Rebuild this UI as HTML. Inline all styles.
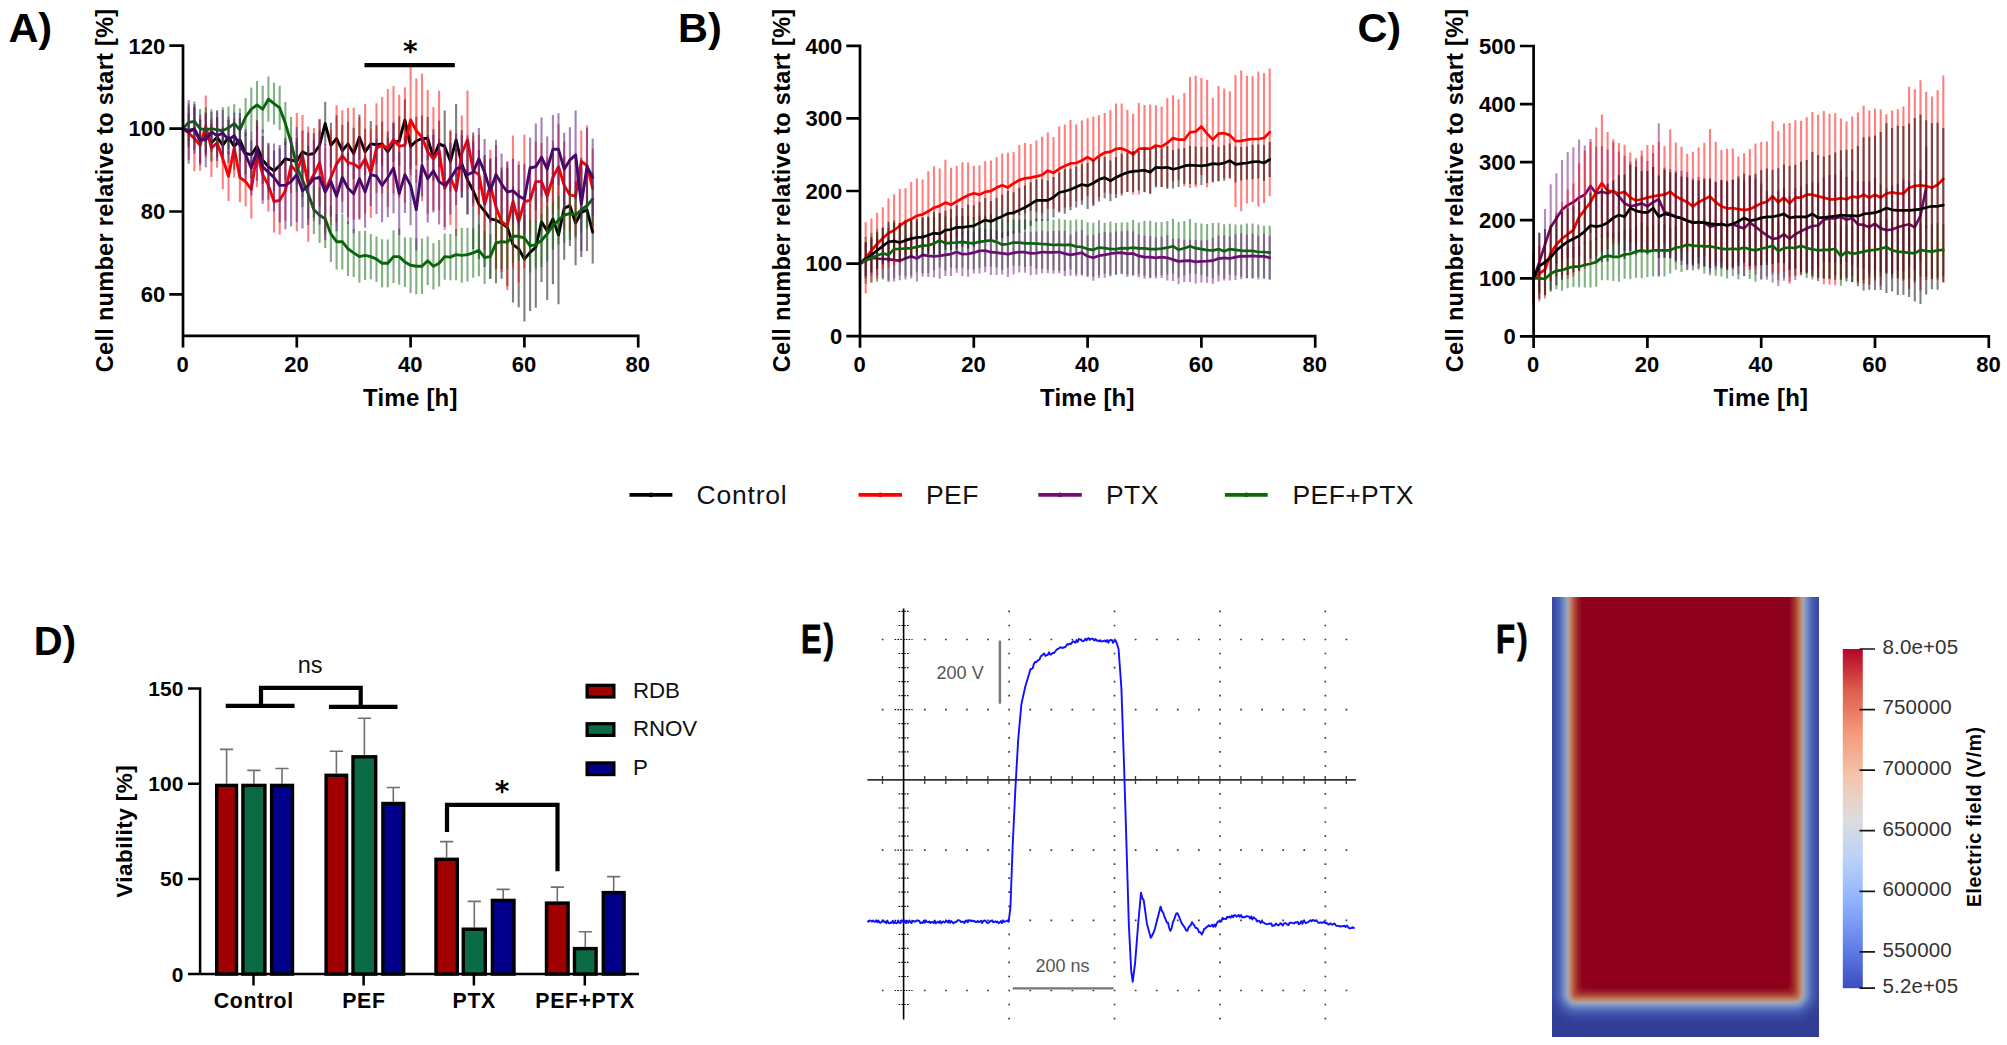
<!DOCTYPE html>
<html lang="en"><head><meta charset="utf-8"><title>Figure</title>
<style>html,body{margin:0;padding:0;background:#fff;}svg{display:block;}</style></head>
<body>
<svg width="2007" height="1045" viewBox="0 0 2007 1045">
<rect width="2007" height="1045" fill="#fff"/>
<path d="M183 108.2V148.9M188.7 113.8V147.5M194.4 108.1V149.9M200.1 119V163.1M205.8 114V154.8M211.4 123.9V161.5M217.1 117.1V157.5M222.8 127.3V163M228.5 119.9V154.6M234.2 123V169.8M239.9 118.1V161.4M245.6 132.4V174.5M251.3 130.8V178.6M257 125.5V167.3M262.7 136.1V184M268.4 142.8V190.6M274 150.8V190.9M279.7 144.9V186M285.4 137.8V179.8M291.1 139.3V180.9M296.8 137.9V184.7M302.5 130.6V172.9M308.2 132.5V176.9M313.9 133.2V173.7M319.6 119.6V170.8M325.2 101.8V145.4M330.9 122.7V167.7M336.6 115.2V161.9M342.3 125V176.1M348 121.7V166.2M353.7 127.8V179.1M359.4 114.5V160.1M365.1 128.8V174.8M370.8 121V166.9M376.5 125.2V164.3M382.1 121.5V166.3M387.8 131.2V172.4M393.5 123.3V162.1M399.2 116.2V165.9M404.9 99.3V140.4M410.6 123.8V169M416.3 116.7V165.4M422 115.4V161.7M427.7 116.9V160.1M433.4 134.7V180.5M439.1 120.7V167.1M444.7 110.4V182.4M450.4 131.2V191.5M456.1 103.9V175.6M461.8 130.3V197.3M467.5 145.2V214.8M473.2 132.5V249M478.9 149.9V259M484.6 155.1V267.1M490.3 159.1V278.8M496 157.1V283.2M501.6 167.4V278.7M507.3 168.1V286.3M513 186.8V302.5M518.7 190.3V307.3M524.4 196.9V321.4M530.1 193.9V311.1M535.8 186.6V307.7M541.5 161.7V281.9M547.2 161.8V300.1M552.9 153.6V284.2M558.5 165.9V304.3M564.2 156.5V259.8M569.9 165.3V246M575.6 180.9V265.3M581.3 167.7V256.9M587 168.7V250.9M592.7 200.8V263.6" stroke="#000000" stroke-opacity="0.5" stroke-width="2.1" fill="none"/>
<polyline points="183,128.6 188.7,130.7 194.4,129 200.1,141 205.8,134.4 211.4,142.7 217.1,137.3 222.8,145.2 228.5,137.3 234.2,146.4 239.9,139.8 245.6,153.5 251.3,154.7 257,146.4 262.7,160.1 268.4,166.7 274,170.9 279.7,165.5 285.4,158.8 291.1,160.1 296.8,161.3 302.5,151.8 308.2,154.7 313.9,153.5 319.6,145.2 325.2,123.6 330.9,145.2 336.6,138.5 342.3,150.6 348,143.9 353.7,153.5 359.4,137.3 365.1,151.8 370.8,143.9 376.5,144.7 382.1,143.9 387.8,151.8 393.5,142.7 399.2,141 404.9,119.9 410.6,146.4 416.3,141 422,138.5 427.7,138.5 433.4,157.6 439.1,143.9 444.7,146.4 450.4,161.3 456.1,139.8 461.8,163.8 467.5,180 473.2,190.8 478.9,204.4 484.6,211.1 490.3,218.9 496,220.2 501.6,223.1 507.3,227.2 513,244.6 518.7,248.8 524.4,259.1 530.1,252.5 535.8,247.1 541.5,221.8 547.2,230.9 552.9,218.9 558.5,235.1 564.2,208.2 569.9,205.7 575.6,223.1 581.3,212.3 587,209.8 592.7,232.2" stroke="#000000" stroke-width="2.9" fill="none" stroke-linejoin="round" stroke-linecap="round"/>
<path d="M183 99.7V157.5M188.7 106.5V159.8M194.4 105.8V171.3M200.1 119.7V170.7M205.8 95.4V157.6M211.4 119.2V177M217.1 117.6V167.7M222.8 128.4V189.2M228.5 151.6V200.9M234.2 118.8V177.4M239.9 152.7V202.3M245.6 156.6V206.6M251.3 160.6V218.4M257 119.9V187M262.7 149.5V199.7M268.4 159.2V211.5M274 170.7V232.4M279.7 165.8V234.7M285.4 160.7V220.8M291.1 137.7V193.3M296.8 112.9V231.3M302.5 115V196.9M308.2 126.5V241.7M313.9 128.1V221M319.6 118.8V206.4M325.2 147.2V234.3M330.9 129.7V225.2M336.6 105.2V222.4M342.3 110.2V201.6M348 108.1V217M353.7 107.8V219.8M359.4 117.3V218.6M365.1 104.1V213.6M370.8 128.8V217.9M376.5 103.3V192.9M382.1 96.9V193.4M387.8 89.1V207.1M393.5 86V193.5M399.2 94.8V198M404.9 87.2V203.1M410.6 64.6V175.2M416.3 78.5V182.8M422 73.5V201M427.7 89.9V213.7M433.4 107.1V210.6M439.1 90.8V210.3M444.7 146.4V230.1M450.4 129.8V225.1M456.1 145.5V236M461.8 115.5V191.4M467.5 90.4V189.2M473.2 135.7V206M478.9 134.5V214.7M484.6 158.7V250.1M490.3 149.7V221M496 145V268.8M501.6 171.8V271.9M507.3 161V290.1M513 135.5V267.5M518.7 161.3V282.4M524.4 134.8V268.3M530.1 165.8V234.8M535.8 141.4V221.8M541.5 142.9V220.3M547.2 157.6V234.6M552.9 140.8V214.1M558.5 124.3V209.1M564.2 141.4V229.3M569.9 158V231.8M575.6 156.4V235.9M581.3 130.6V192.1M587 125.2V205.8M592.7 148.8V227.8" stroke="#ff0000" stroke-opacity="0.5" stroke-width="2.1" fill="none"/>
<polyline points="183,128.6 188.7,133.1 194.4,138.5 200.1,145.2 205.8,126.5 211.4,148.1 217.1,142.7 222.8,158.8 228.5,176.2 234.2,148.1 239.9,177.5 245.6,181.6 251.3,189.5 257,153.5 262.7,174.6 268.4,185.4 274,201.5 279.7,200.3 285.4,190.8 291.1,165.5 296.8,172.1 302.5,155.9 308.2,184.1 313.9,174.6 319.6,162.6 325.2,190.8 330.9,177.5 336.6,163.8 342.3,155.9 348,162.6 353.7,163.8 359.4,168 365.1,158.8 370.8,173.3 376.5,148.1 382.1,145.2 387.8,148.1 393.5,139.8 399.2,146.4 404.9,145.2 410.6,119.9 416.3,130.7 422,137.3 427.7,151.8 433.4,158.8 439.1,150.6 444.7,188.3 450.4,177.5 456.1,190.8 461.8,153.5 467.5,139.8 473.2,170.9 478.9,174.6 484.6,204.4 490.3,185.4 496,206.9 501.6,221.8 507.3,225.6 513,201.5 518.7,221.8 524.4,201.5 530.1,200.3 535.8,181.6 541.5,181.6 547.2,196.1 552.9,177.5 558.5,166.7 564.2,185.4 569.9,194.9 575.6,196.1 581.3,161.3 587,165.5 592.7,188.3" stroke="#ff0000" stroke-width="2.9" fill="none" stroke-linejoin="round" stroke-linecap="round"/>
<path d="M183 109.9V147.2M188.7 103.6V141.2M194.4 101.5V141.6M200.1 108.9V148.3M205.8 107.2V152.4M211.4 109.3V147.9M217.1 111.2V148.5M222.8 107.3V154.1M228.5 106.4V149.1M234.2 104.2V143M239.9 108.3V151.3M245.6 98.1V135.9M251.3 87.6V130.6M257 81.1V128.9M262.7 85.7V132.5M268.4 76.6V121.7M274 82.8V124.6M279.7 85.7V130M285.4 102V145.2M291.1 116.9V168.4M296.8 141.7V191.7M302.5 152.8V207.1M308.2 168.6V218.7M313.9 185.5V234.1M319.6 187.3V243.1M325.2 190V247.9M330.9 205.8V261.9M336.6 214V269.5M342.3 214V269.5M348 221.6V276M353.7 228.9V276.9M359.4 230.9V282.4M365.1 230.7V280.1M370.8 234V279.3M376.5 236.6V281.7M382.1 239.2V287.3M387.8 239.4V287.2M393.5 230.2V283.1M399.2 228.6V284.7M404.9 237.2V286.9M410.6 237.6V293.1M416.3 238.2V294.2M422 238.4V293.9M427.7 236.6V285M433.4 242.9V289.4M439.1 240V286.5M444.7 233.6V279.7M450.4 234V280.2M456.1 229V280.2M461.8 228.1V282.7M467.5 227.7V281.5M473.2 228.2V277.7M478.9 224.6V276.2M484.6 230.8V284.1M490.3 234.3V279M496 217.1V268.8M501.6 214.4V269M507.3 215.6V268.7M513 210V262.7M518.7 211.6V261.1M524.4 215V260.9M530.1 219.3V272.5M535.8 220.8V268.5M541.5 213.8V267.1M547.2 206.2V261.5M552.9 201.3V249.8M558.5 195.9V244.5M564.2 187.7V242.7M569.9 187.3V239.8M575.6 192.3V238.1M581.3 187.2V232.5M587 182.9V228.5M592.7 171.8V226.3" stroke="#0a640a" stroke-opacity="0.5" stroke-width="2.1" fill="none"/>
<polyline points="183,128.6 188.7,122.4 194.4,121.5 200.1,128.6 205.8,129.8 211.4,128.6 217.1,129.8 222.8,130.7 228.5,127.8 234.2,123.6 239.9,129.8 245.6,117 251.3,109.1 257,105 262.7,109.1 268.4,99.2 274,103.7 279.7,107.9 285.4,123.6 291.1,142.7 296.8,166.7 302.5,180 308.2,193.7 313.9,209.8 319.6,215.2 325.2,218.9 330.9,233.9 336.6,241.7 342.3,241.7 348,248.8 353.7,252.9 359.4,256.6 365.1,255.4 370.8,256.6 376.5,259.1 382.1,263.3 387.8,263.3 393.5,256.6 399.2,256.6 404.9,262 410.6,265.3 416.3,266.2 422,266.2 427.7,260.8 433.4,266.2 439.1,263.3 444.7,256.6 450.4,257.1 456.1,254.6 461.8,255.4 467.5,254.6 473.2,252.9 478.9,250.4 484.6,257.5 490.3,256.6 496,243 501.6,241.7 507.3,242.1 513,236.3 518.7,236.3 524.4,238 530.1,245.9 535.8,244.6 541.5,240.5 547.2,233.9 552.9,225.6 558.5,220.2 564.2,215.2 569.9,213.5 575.6,215.2 581.3,209.8 587,205.7 592.7,199" stroke="#0a640a" stroke-width="2.9" fill="none" stroke-linejoin="round" stroke-linecap="round"/>
<path d="M183 93.9V163.3M188.7 100.1V163.7M194.4 104V154M200.1 114.5V165.1M205.8 112.3V167.2M211.4 111.8V152M217.1 110.3V160.9M222.8 110.1V156.1M228.5 116.6V162.9M234.2 112.4V158.8M239.9 113V177.3M245.6 129.3V180.1M251.3 140.4V195.5M257 120.4V180.7M262.7 129.6V203.8M268.4 144.5V199.7M274 143.4V211.6M279.7 148.2V222.6M285.4 141.4V229.3M291.1 136.8V226.5M296.8 127.1V222.1M302.5 153.1V228.4M308.2 145.6V225.1M313.9 140.1V217.4M319.6 130.4V224.5M325.2 143.9V240M330.9 146.8V216.4M336.6 161.1V231.2M342.3 141.7V213.3M348 152.6V224M353.7 154.1V233.2M359.4 137.7V219.8M365.1 156.3V227.7M370.8 143.1V206.1M376.5 138.4V214.1M382.1 148.4V222.3M387.8 137.7V217.3M393.5 122.3V213.6M399.2 152.3V235M404.9 136.1V213.1M410.6 145.4V225.3M416.3 169.2V250.5M422 134.4V196.5M427.7 135.1V222.4M433.4 129.2V212.5M439.1 138.7V224.5M444.7 143.6V227.1M450.4 143V214.4M456.1 133.4V205M461.8 135.3V198.1M467.5 135.3V213.9M473.2 141.3V202.9M478.9 128V189.7M484.6 139.1V205.1M490.3 158.5V223M496 139.7V209.5M501.6 153.5V214.7M507.3 162.2V221.8M513 158.7V222.8M518.7 164.8V227.5M524.4 163.8V234.3M530.1 137.6V198.3M535.8 123.4V210M541.5 117.6V196.7M547.2 136.6V201.8M552.9 114.9V183.7M558.5 113.3V185.3M564.2 132.8V205.6M569.9 127.2V192.9M575.6 110.4V199M581.3 157.7V251.1M587 128V205.4M592.7 138.4V216.6" stroke="#5b1a7d" stroke-opacity="0.55" stroke-width="2.1" fill="none"/>
<polyline points="183,128.6 188.7,131.9 194.4,129 200.1,139.8 205.8,139.8 211.4,131.9 217.1,135.6 222.8,133.1 228.5,139.8 234.2,135.6 239.9,145.2 245.6,154.7 251.3,168 257,150.6 262.7,166.7 268.4,172.1 274,177.5 279.7,185.4 285.4,185.4 291.1,181.6 296.8,174.6 302.5,190.8 308.2,185.4 313.9,178.7 319.6,177.5 325.2,192 330.9,181.6 336.6,196.1 342.3,177.5 348,188.3 353.7,193.7 359.4,178.7 365.1,192 370.8,174.6 376.5,176.2 382.1,185.4 387.8,177.5 393.5,168 399.2,193.7 404.9,174.6 410.6,185.4 416.3,209.8 422,165.5 427.7,178.7 433.4,170.9 439.1,181.6 444.7,185.4 450.4,178.7 456.1,169.2 461.8,166.7 467.5,174.6 473.2,172.1 478.9,158.8 484.6,172.1 490.3,190.8 496,174.6 501.6,184.1 507.3,192 513,190.8 518.7,196.1 524.4,199 530.1,168 535.8,166.7 541.5,157.2 547.2,169.2 552.9,149.3 558.5,149.3 564.2,169.2 569.9,160.1 575.6,154.7 581.3,204.4 587,166.7 592.7,177.5" stroke="#45086b" stroke-width="2.9" fill="none" stroke-linejoin="round" stroke-linecap="round"/>
<path d="M183 44.4V335.8H639.5M183 294.4H169.3M183 211.5H169.3M183 128.6H169.3M183 45.7H169.3M183 335.8V347.4M296.8 335.8V347.4M410.6 335.8V347.4M524.4 335.8V347.4M638.2 335.8V347.4" stroke="#000" stroke-width="2.7" fill="none"/>
<text x="165.2" y="302.2" text-anchor="end" font-family="Liberation Sans, Arial, sans-serif" font-weight="bold" font-size="22">60</text>
<text x="165.2" y="219.3" text-anchor="end" font-family="Liberation Sans, Arial, sans-serif" font-weight="bold" font-size="22">80</text>
<text x="165.2" y="136.4" text-anchor="end" font-family="Liberation Sans, Arial, sans-serif" font-weight="bold" font-size="22">100</text>
<text x="165.2" y="53.5" text-anchor="end" font-family="Liberation Sans, Arial, sans-serif" font-weight="bold" font-size="22">120</text>
<text x="182.6" y="372.3" text-anchor="middle" font-family="Liberation Sans, Arial, sans-serif" font-weight="bold" font-size="22">0</text>
<text x="296.4" y="372.3" text-anchor="middle" font-family="Liberation Sans, Arial, sans-serif" font-weight="bold" font-size="22">20</text>
<text x="410.2" y="372.3" text-anchor="middle" font-family="Liberation Sans, Arial, sans-serif" font-weight="bold" font-size="22">40</text>
<text x="524" y="372.3" text-anchor="middle" font-family="Liberation Sans, Arial, sans-serif" font-weight="bold" font-size="22">60</text>
<text x="637.8" y="372.3" text-anchor="middle" font-family="Liberation Sans, Arial, sans-serif" font-weight="bold" font-size="22">80</text>
<text x="363" y="406.2" font-family="Liberation Sans, Arial, sans-serif" font-weight="bold" font-size="24" textLength="94.5" lengthAdjust="spacing">Time [h]</text>
<text transform="translate(112.7 372.2) rotate(-90)" font-family="Liberation Sans, Arial, sans-serif" font-weight="bold" font-size="23.5" textLength="363.4" lengthAdjust="spacing">Cell number relative to start [%]</text>
<text x="8.4" y="42.2" font-family="Liberation Sans, Arial, sans-serif" font-weight="bold" font-size="41.5">A)</text>
<path d="M364.5 65.1H454.8" stroke="#000" stroke-width="4.2" fill="none"/>
<text x="410.4" y="60.6" text-anchor="middle" font-family="DejaVu Sans, sans-serif" font-weight="bold" font-size="28">*</text>
<path d="M860 241.2V286M865.7 237V283.7M871.4 233.1V282.5M877.1 229V281.8M882.8 227.4V279.5M888.5 227.9V281.9M894.1 220V278.1M899.8 222.9V275.2M905.5 220.5V276.2M911.2 220.8V275.8M916.9 221.5V272.3M922.6 217.8V273.3M928.3 217.6V273.3M934 216.6V270.3M939.7 213.3V267.4M945.4 216.2V270.4M951 218V267.7M956.7 216.6V268.5M962.4 216.1V267.5M968.1 216.3V269.4M973.8 216.9V269.6M979.5 215.6V268.1M985.2 215.7V266.5M990.9 214.2V266.5M996.6 216.5V267.2M1002.2 219.5V270M1007.9 220.2V267.7M1013.6 219.5V265.6M1019.3 219.4V265.7M1025 219.6V267M1030.7 220.4V266.1M1036.4 218.3V268.8M1042.1 219.3V268.7M1047.8 219.2V269.6M1053.5 219.5V270.5M1059.2 218.8V270.7M1064.8 219.5V270.9M1070.5 220.3V269.2M1076.2 219.4V273.8M1081.9 219.7V274.4M1087.6 222.2V276M1093.3 222.8V276.8M1099 220.3V275M1104.7 222.7V273.6M1110.4 221.4V276.6M1116 223V275.1M1121.7 222.6V273.6M1127.4 222.2V274.5M1133.1 220V275.2M1138.8 222.5V274.3M1144.5 220.7V276M1150.2 220.8V277.6M1155.9 222.2V275.9M1161.6 222.1V275M1167.3 220.9V274.5M1173 218.7V273.6M1178.6 222.1V277.5M1184.3 221V275.5M1190 218.9V273.5M1195.7 222.7V273.7M1201.4 223.4V274.8M1207.1 224.1V276.3M1212.8 222.9V278.2M1218.5 222.8V275.3M1224.2 224.2V278.3M1229.8 223.8V274.4M1235.5 224.4V275.3M1241.2 224.6V276.8M1246.9 223.4V278.2M1252.6 223.4V278.4M1258.3 224.6V279.4M1264 225.8V278.2M1269.7 225.8V279.6" stroke="#0a640a" stroke-opacity="0.5" stroke-width="2.1" fill="none"/>
<path d="M860 245.5V281.7M865.7 242.3V279.1M871.4 239.8V275.8M877.1 238.4V278.7M882.8 240.1V277.9M888.5 238.1V280.4M894.1 238.7V281.5M899.8 241.2V280.2M905.5 237.5V279.4M911.2 234.1V278.6M916.9 235.5V281.5M922.6 233.2V276.5M928.3 234.6V277M934 235.3V277.4M939.7 232.9V278.8M945.4 233.9V275.9M951 232.1V276.1M956.7 231.1V272.8M962.4 232.3V276M968.1 230.8V276.7M973.8 231.9V273.5M979.5 228.3V273.6M985.2 228.7V272.3M990.9 229.4V275M996.6 230.4V275M1002.2 232.4V274.5M1007.9 231.3V277M1013.6 231.1V274.6M1019.3 231.4V272.5M1025 231.7V272.7M1030.7 231.7V275.2M1036.4 231.5V274.8M1042.1 230.7V273.2M1047.8 231.5V273.2M1053.5 231V273.7M1059.2 230.7V273.3M1064.8 230.9V276.3M1070.5 234.4V275.4M1076.2 231.4V276.3M1081.9 230V275.4M1087.6 235.6V277.1M1093.3 234.9V280.7M1099 233.3V278M1104.7 232.1V277.7M1110.4 232.4V274.9M1116 231.4V274.3M1121.7 231.2V274.2M1127.4 230.7V276.9M1133.1 231.4V275.4M1138.8 234.5V277.3M1144.5 235.5V278.7M1150.2 235.9V278.3M1155.9 237.2V278.4M1161.6 236.5V278M1167.3 235.1V280.4M1173 238.4V280.9M1178.6 238.5V284.3M1184.3 239.8V282.1M1190 239.5V281.9M1195.7 240V283.6M1201.4 240.5V282.4M1207.1 239.8V282.7M1212.8 237.7V283.7M1218.5 235.8V281.4M1224.2 235.2V280.4M1229.8 236.4V280.6M1235.5 234.2V279.9M1241.2 233.3V279.2M1246.9 234.4V278.2M1252.6 233.5V278.2M1258.3 235.7V276.9M1264 234V278.8M1269.7 236.1V279.4" stroke="#7a2a86" stroke-opacity="0.55" stroke-width="2.1" fill="none"/>
<polyline points="860,263.6 865.7,260.7 871.4,257.8 877.1,258.5 882.8,259 888.5,259.2 894.1,260.1 899.8,260.7 905.5,258.5 911.2,256.3 916.9,258.5 922.6,254.9 928.3,255.8 934,256.3 939.7,255.8 945.4,254.9 951,254.1 956.7,252 962.4,254.2 968.1,253.8 973.8,252.7 979.5,250.9 985.2,250.5 990.9,252.2 996.6,252.7 1002.2,253.4 1007.9,254.2 1013.6,252.9 1019.3,252 1025,252.2 1030.7,253.4 1036.4,253.1 1042.1,252 1047.8,252.3 1053.5,252.3 1059.2,252 1064.8,253.6 1070.5,254.9 1076.2,253.9 1081.9,252.7 1087.6,256.3 1093.3,257.8 1099,255.7 1104.7,254.9 1110.4,253.7 1116,252.9 1121.7,252.7 1127.4,253.8 1133.1,253.4 1138.8,255.9 1144.5,257.1 1150.2,257.1 1155.9,257.8 1161.6,257.2 1167.3,257.8 1173,259.6 1178.6,261.4 1184.3,260.9 1190,260.7 1195.7,261.8 1201.4,261.4 1207.1,261.2 1212.8,260.7 1218.5,258.6 1224.2,257.8 1229.8,258.5 1235.5,257.1 1241.2,256.2 1246.9,256.3 1252.6,255.8 1258.3,256.3 1264,256.4 1269.7,257.8" stroke="#6a0e72" stroke-width="2.7" fill="none" stroke-linejoin="round" stroke-linecap="round"/>
<path d="M860 228.1V299.1M865.7 222.1V293.5M871.4 218.5V282.5M877.1 212.7V275.3M882.8 207.3V269.1M888.5 198.5V267.7M894.1 194.4V266M899.8 188.9V262.8M905.5 188.2V254.8M911.2 182.1V256.2M916.9 178.5V252.9M922.6 179.4V249.3M928.3 171.3V251.4M934 166.3V249.1M939.7 168.5V243.4M945.4 159.8V245.4M951 167.7V241.9M956.7 166V237M962.4 162.2V234.3M968.1 162.4V228.2M973.8 165.7V220.6M979.5 165.2V224.1M985.2 161.3V222.4M990.9 160.6V221.4M996.6 157.2V218M1002.2 153.5V216.9M1007.9 152.8V222M1013.6 151.9V214.9M1019.3 145V215.3M1025 143V213.5M1030.7 144.1V211.1M1036.4 140.5V212.3M1042.1 136.8V213.2M1047.8 132.6V208.8M1053.5 136.9V208.8M1059.2 126.5V211M1064.8 124.4V207.6M1070.5 120V206.8M1076.2 124.6V201.3M1081.9 120.5V200.5M1087.6 118.2V196.2M1093.3 116.4V204.6M1099 115.3V196.7M1104.7 112.9V192.6M1110.4 109.9V193.8M1116 103.6V194.3M1121.7 103.6V193.2M1127.4 109.9V192M1133.1 113.8V194.6M1138.8 103.1V194.6M1144.5 104.9V191.8M1150.2 104.5V193.3M1155.9 105.2V185.8M1161.6 106.6V186.9M1167.3 98.3V187.5M1173 95.3V181M1178.6 99.2V180.2M1184.3 93.1V186.3M1190 76.7V188M1195.7 75.7V187.3M1201.4 78V175.1M1207.1 79.9V187.4M1212.8 97.8V181.6M1218.5 86V181.3M1224.2 88.5V177.9M1229.8 91.2V179M1235.5 75.2V207M1241.2 70.6V211.3M1246.9 75.8V203.5M1252.6 76.2V201.9M1258.3 71.5V206.6M1264 73.1V202.9M1269.7 68.4V196.3" stroke="#ff0000" stroke-opacity="0.5" stroke-width="2.1" fill="none"/>
<polyline points="860,263.6 865.7,257.8 871.4,250.5 877.1,244 882.8,238.2 888.5,233.1 894.1,230.2 899.8,225.8 905.5,221.5 911.2,219.1 916.9,215.7 922.6,214.4 928.3,211.3 934,207.7 939.7,205.9 945.4,202.6 951,204.8 956.7,201.5 962.4,198.3 968.1,195.3 973.8,193.2 979.5,194.6 985.2,191.9 990.9,191 996.6,187.6 1002.2,185.2 1007.9,187.4 1013.6,183.4 1019.3,180.1 1025,178.3 1030.7,177.6 1036.4,176.4 1042.1,175 1047.8,170.7 1053.5,172.8 1059.2,168.8 1064.8,166 1070.5,163.4 1076.2,163 1081.9,160.5 1087.6,157.2 1093.3,160.5 1099,156 1104.7,152.7 1110.4,151.9 1116,148.9 1121.7,148.4 1127.4,151 1133.1,154.2 1138.8,148.9 1144.5,148.4 1150.2,148.9 1155.9,145.5 1161.6,146.7 1167.3,142.9 1173,138.1 1178.6,139.7 1184.3,139.7 1190,132.3 1195.7,131.5 1201.4,126.5 1207.1,133.6 1212.8,139.7 1218.5,133.6 1224.2,133.2 1229.8,135.1 1235.5,141.1 1241.2,140.9 1246.9,139.7 1252.6,139 1258.3,139 1264,138 1269.7,132.3" stroke="#ff0000" stroke-width="2.7" fill="none" stroke-linejoin="round" stroke-linecap="round"/>
<path d="M860 246.4V280.8M865.7 242.2V276.3M871.4 237.2V272.6M877.1 232.3V268.8M882.8 227.7V264.6M888.5 221.8V261.9M894.1 222.3V259.9M899.8 222.9V262.2M905.5 221.5V259.2M911.2 219V258.2M916.9 218.7V256.2M922.6 217.5V256.6M928.3 216.4V254.1M934 211.9V254.3M939.7 213.1V254.5M945.4 210.7V249.8M951 209V250M956.7 205.2V249.4M962.4 207.9V246.7M968.1 204.7V248.4M973.8 205.3V246.4M979.5 202.1V243.8M985.2 198V242.1M990.9 200.9V242.1M996.6 197.8V239.8M1002.2 194.7V238.1M1007.9 190.8V236.2M1013.6 192.2V233.4M1019.3 187.7V232.4M1025 185.5V229.4M1030.7 182.3V225.8M1036.4 179.4V221.5M1042.1 179.4V221.1M1047.8 180.5V220.4M1053.5 177.1V217.5M1059.2 172.4V212.5M1064.8 168.9V213.8M1070.5 168.8V210.3M1076.2 166.6V207.6M1081.9 164.2V204.8M1087.6 162.9V208.9M1093.3 160.1V205.9M1099 157.4V201.6M1104.7 156.9V198.2M1110.4 160.5V201.2M1116 157.1V197.9M1121.7 153.8V195.5M1127.4 152.7V192M1133.1 150.9V191.9M1138.8 151.1V190.6M1144.5 148.3V192.2M1150.2 150.3V193.9M1155.9 147V187.6M1161.6 148.6V187M1167.3 146V188.7M1173 150.1V188.4M1178.6 148.8V187.1M1184.3 148V183.8M1190 146.1V184M1195.7 146.4V184.6M1201.4 146.8V184.9M1207.1 147V183.1M1212.8 144.8V182.4M1218.5 146.9V181.3M1224.2 145.2V180.8M1229.8 143.5V177.8M1235.5 146.5V182.4M1241.2 146.9V180.5M1246.9 146.4V179.6M1252.6 144.7V179.2M1258.3 144.6V178.5M1264 145.2V180.8M1269.7 142V177" stroke="#000000" stroke-opacity="0.5" stroke-width="2.1" fill="none"/>
<polyline points="860,263.6 865.7,259.2 871.4,254.9 877.1,250.5 882.8,246.2 888.5,241.8 894.1,241.1 899.8,242.5 905.5,240.4 911.2,238.6 916.9,237.5 922.6,237.1 928.3,235.3 934,233.1 939.7,233.8 945.4,230.2 951,229.5 956.7,227.3 962.4,227.3 968.1,226.5 973.8,225.8 979.5,222.9 985.2,220 990.9,221.5 996.6,218.8 1002.2,216.4 1007.9,213.5 1013.6,212.8 1019.3,210.1 1025,207.5 1030.7,204.1 1036.4,200.4 1042.1,200.3 1047.8,200.4 1053.5,197.3 1059.2,192.5 1064.8,191.3 1070.5,189.5 1076.2,187.1 1081.9,184.5 1087.6,185.9 1093.3,183 1099,179.5 1104.7,177.6 1110.4,180.8 1116,177.5 1121.7,174.7 1127.4,172.4 1133.1,171.4 1138.8,170.9 1144.5,170.2 1150.2,172.1 1155.9,167.3 1161.6,167.8 1167.3,167.3 1173,169.2 1178.6,168 1184.3,165.9 1190,165.1 1195.7,165.5 1201.4,165.9 1207.1,165.1 1212.8,163.6 1218.5,164.1 1224.2,163 1229.8,160.7 1235.5,164.4 1241.2,163.7 1246.9,163 1252.6,161.9 1258.3,161.5 1264,163 1269.7,159.5" stroke="#000000" stroke-width="2.7" fill="none" stroke-linejoin="round" stroke-linecap="round"/>
<polyline points="860,263.6 865.7,260.3 871.4,257.8 877.1,255.4 882.8,253.4 888.5,254.9 894.1,249.1 899.8,249 905.5,248.4 911.2,248.3 916.9,246.9 922.6,245.6 928.3,245.4 934,243.5 939.7,240.4 945.4,243.3 951,242.8 956.7,242.5 962.4,241.8 968.1,242.8 973.8,243.3 979.5,241.8 985.2,241.1 990.9,240.4 996.6,241.9 1002.2,244.7 1007.9,244 1013.6,242.5 1019.3,242.6 1025,243.3 1030.7,243.3 1036.4,243.6 1042.1,244 1047.8,244.4 1053.5,245 1059.2,244.7 1064.8,245.2 1070.5,244.7 1076.2,246.6 1081.9,247 1087.6,249.1 1093.3,249.8 1099,247.6 1104.7,248.1 1110.4,249 1116,249.1 1121.7,248.1 1127.4,248.4 1133.1,247.6 1138.8,248.4 1144.5,248.4 1150.2,249.2 1155.9,249.1 1161.6,248.6 1167.3,247.7 1173,246.2 1178.6,249.8 1184.3,248.2 1190,246.2 1195.7,248.2 1201.4,249.1 1207.1,250.2 1212.8,250.5 1218.5,249.1 1224.2,251.3 1229.8,249.1 1235.5,249.8 1241.2,250.7 1246.9,250.8 1252.6,250.9 1258.3,252 1264,252 1269.7,252.7" stroke="#0a640a" stroke-width="2.7" fill="none" stroke-linejoin="round" stroke-linecap="round"/>
<path d="M860 44.5V336.2H1316.5M860 336.2H846.3M860 263.6H846.3M860 191H846.3M860 118.4H846.3M860 45.8H846.3M860 336.2V347.8M973.8 336.2V347.8M1087.6 336.2V347.8M1201.4 336.2V347.8M1315.2 336.2V347.8" stroke="#000" stroke-width="2.7" fill="none"/>
<text x="842.2" y="344" text-anchor="end" font-family="Liberation Sans, Arial, sans-serif" font-weight="bold" font-size="22">0</text>
<text x="842.2" y="271.4" text-anchor="end" font-family="Liberation Sans, Arial, sans-serif" font-weight="bold" font-size="22">100</text>
<text x="842.2" y="198.8" text-anchor="end" font-family="Liberation Sans, Arial, sans-serif" font-weight="bold" font-size="22">200</text>
<text x="842.2" y="126.2" text-anchor="end" font-family="Liberation Sans, Arial, sans-serif" font-weight="bold" font-size="22">300</text>
<text x="842.2" y="53.6" text-anchor="end" font-family="Liberation Sans, Arial, sans-serif" font-weight="bold" font-size="22">400</text>
<text x="859.6" y="372.3" text-anchor="middle" font-family="Liberation Sans, Arial, sans-serif" font-weight="bold" font-size="22">0</text>
<text x="973.4" y="372.3" text-anchor="middle" font-family="Liberation Sans, Arial, sans-serif" font-weight="bold" font-size="22">20</text>
<text x="1087.2" y="372.3" text-anchor="middle" font-family="Liberation Sans, Arial, sans-serif" font-weight="bold" font-size="22">40</text>
<text x="1201" y="372.3" text-anchor="middle" font-family="Liberation Sans, Arial, sans-serif" font-weight="bold" font-size="22">60</text>
<text x="1314.8" y="372.3" text-anchor="middle" font-family="Liberation Sans, Arial, sans-serif" font-weight="bold" font-size="22">80</text>
<text x="1040" y="406.2" font-family="Liberation Sans, Arial, sans-serif" font-weight="bold" font-size="24" textLength="94.5" lengthAdjust="spacing">Time [h]</text>
<text transform="translate(789.7 372.2) rotate(-90)" font-family="Liberation Sans, Arial, sans-serif" font-weight="bold" font-size="23.5" textLength="363.4" lengthAdjust="spacing">Cell number relative to start [%]</text>
<text x="678" y="42.2" font-family="Liberation Sans, Arial, sans-serif" font-weight="bold" font-size="41.5">B)</text>
<path d="M1533.6 264.7V292M1539.3 262V294.6M1545 262.4V295.4M1550.7 255.3V292M1556.4 252.3V289.3M1562 249.5V290.8M1567.7 247.5V288.2M1573.4 246.4V287M1579.1 246.1V287.3M1584.8 242.3V287.6M1590.5 240.2V287.4M1596.2 237.3V286.8M1601.9 234.7V280.2M1607.6 231V280.3M1613.3 232.6V281.1M1618.9 231.8V281.8M1624.6 230.3V278.8M1630.3 228.9V278.9M1636 225.5V277.7M1641.7 222.7V278.2M1647.4 226.1V277.1M1653.1 224.5V276.4M1658.8 224.2V276.7M1664.5 224.4V276.4M1670.2 227.4V273.5M1675.8 225.3V269.7M1681.5 221.9V272M1687.2 218.9V270.3M1692.9 221V270.6M1698.6 221.8V269.8M1704.3 219.1V273.6M1710 220.3V272.5M1715.7 219.2V275.8M1721.4 220.8V276.6M1727.1 220.1V278.4M1732.8 221.3V276.1M1738.4 219.2V279.4M1744.1 218.9V276.2M1749.8 219.4V279.1M1755.5 219.1V281.8M1761.2 217.6V279.8M1766.9 218.8V276.2M1772.6 217.1V274.5M1778.3 221.8V280.3M1784 218.6V277.7M1789.6 218.6V276.5M1795.3 220.2V276M1801 217.6V274M1806.7 218.3V277.9M1812.4 219V279.5M1818.1 223.3V277.6M1823.8 221V278.7M1829.5 220.5V279.3M1835.2 221.9V275.5M1840.9 226.8V285.7M1846.5 224.7V278.5M1852.2 225.5V282.3M1857.9 224.7V280.9M1863.6 223.4V279.8M1869.3 223.4V277.5M1875 222.6V277.2M1880.7 221V276.4M1886.4 219.9V274M1892.1 222.7V278.2M1897.8 224.7V278.5M1903.4 225.4V279M1909.1 227.4V278.1M1914.8 226.2V280.5M1920.5 223.3V276.4M1926.2 225.4V276.7M1931.9 224.4V278.8M1937.6 223.3V277.6M1943.3 223.9V275.9" stroke="#0a640a" stroke-opacity="0.5" stroke-width="2.1" fill="none"/>
<path d="M1533.6 252.4V304.2M1539.3 232.5V291.7M1545 209.1V280.2M1550.7 184.3V270.1M1556.4 173.2V263.8M1562 159.9V259.7M1567.7 152V258.3M1573.4 147.2V257.3M1579.1 139.4V255.8M1584.8 145.4V243.9M1590.5 139.1V232.9M1596.2 146.8V240.2M1601.9 146.2V237.3M1607.6 149.5V237.5M1613.3 142.3V238.9M1618.9 151.6V241.2M1624.6 155.7V251.1M1630.3 161.7V250.9M1636 160.5V249.7M1641.7 155.7V251.1M1647.4 161.1V251.5M1653.1 153.3V251.2M1658.8 123.3V275.4M1664.5 167.4V256.8M1670.2 169V258.7M1675.8 170.9V262.6M1681.5 170.7V265.1M1687.2 172.1V269.5M1692.9 178.4V266.8M1698.6 177.1V268.1M1704.3 178.1V267M1710 178V275.2M1715.7 181.5V269.4M1721.4 180.3V267.1M1727.1 182.1V268.8M1732.8 179.2V269.5M1738.4 178.8V274.5M1744.1 180.7V276.1M1749.8 175.7V269.4M1755.5 178.4V274.8M1761.2 183.5V279.1M1766.9 190.9V279.8M1772.6 195.2V282.4M1778.3 190.6V285.9M1784 187.7V280.7M1789.6 196.2V281.4M1795.3 188.2V280.1M1801 186.9V275.6M1806.7 184.1V272.6M1812.4 182.1V270M1818.1 182.4V268.5M1823.8 177.6V261.8M1829.5 175V262M1835.2 174.6V262.4M1840.9 169.7V263.8M1846.5 177.1V262.2M1852.2 170.9V264.9M1857.9 181.4V267.2M1863.6 181.3V268.5M1869.3 181.2V273.2M1875 177.8V269.7M1880.7 184.5V272.2M1886.4 188.4V271.9M1892.1 185.6V273.5M1897.8 183.9V270.6M1903.4 179.3V271.6M1909.1 182V266.6M1914.8 184.1V270.3M1920.5 169.7V261.5M1926.2 146.4V229" stroke="#7a2a86" stroke-opacity="0.55" stroke-width="2.1" fill="none"/>
<polyline points="1533.6,278.3 1539.3,262.1 1545,244.6 1550.7,227.2 1556.4,218.5 1562,209.8 1567.7,205.1 1573.4,202.2 1579.1,197.6 1584.8,194.7 1590.5,186 1596.2,193.5 1601.9,191.8 1607.6,193.5 1613.3,190.6 1618.9,196.4 1624.6,203.4 1630.3,206.3 1636,205.1 1641.7,203.4 1647.4,206.3 1653.1,202.2 1658.8,199.3 1664.5,212.1 1670.2,213.9 1675.8,216.8 1681.5,217.9 1687.2,220.8 1692.9,222.6 1698.6,222.6 1704.3,222.6 1710,226.6 1715.7,225.5 1721.4,223.7 1727.1,225.5 1732.8,224.3 1738.4,226.6 1744.1,228.4 1749.8,222.6 1755.5,226.6 1761.2,231.3 1766.9,235.3 1772.6,238.8 1778.3,238.2 1784,234.2 1789.6,238.8 1795.3,234.2 1801,231.3 1806.7,228.4 1812.4,226 1818.1,225.5 1823.8,219.7 1829.5,218.5 1835.2,218.5 1840.9,216.8 1846.5,219.7 1852.2,217.9 1857.9,224.3 1863.6,224.9 1869.3,227.2 1875,223.7 1880.7,228.4 1886.4,230.1 1892.1,229.5 1897.8,227.2 1903.4,225.5 1909.1,224.3 1914.8,227.2 1920.5,215.6 1926.2,187.7" stroke="#6a0e72" stroke-width="2.7" fill="none" stroke-linejoin="round" stroke-linecap="round"/>
<path d="M1533.6 252.4V304.2M1539.3 245.7V301.6M1545 240.8V298.4M1550.7 225.6V281.1M1556.4 212.5V276.8M1562 202.2V275.5M1567.7 189.4V279M1573.4 183.6V276.6M1579.1 163.2V270.3M1584.8 150.8V268.8M1590.5 142V262.4M1596.2 127.6V255.9M1601.9 114.4V251.7M1607.6 131.9V249.4M1613.3 139.3V244.2M1618.9 143.1V244M1624.6 144.8V238.7M1630.3 152.4V242.8M1636 158V243M1641.7 150.5V248.2M1647.4 145V250.2M1653.1 145V247.8M1658.8 142.1V248.4M1664.5 146V243.4M1670.2 129.6V254M1675.8 142.5V250.3M1681.5 146.8V251.9M1687.2 153.7V250.8M1692.9 151.8V260.9M1698.6 147.6V256.9M1704.3 142.8V255.9M1710 129.1V263.8M1715.7 141.7V262.8M1721.4 150.1V262.5M1727.1 148.8V268.5M1732.8 148.6V267.5M1738.4 156.4V262M1744.1 153.2V267M1749.8 148.9V269.5M1755.5 143.5V269.1M1761.2 142.1V264.7M1766.9 141.5V261.8M1772.6 121.2V271.7M1778.3 131V273.4M1784 123.5V271.7M1789.6 123V283.8M1795.3 120.3V274.9M1801 120.8V274.4M1806.7 117.3V272.1M1812.4 112.1V277.2M1818.1 114.8V278M1823.8 110.9V284.3M1829.5 113.8V284.8M1835.2 113.3V285.3M1840.9 118.4V277.9M1846.5 121.4V277.3M1852.2 116.5V276.3M1857.9 112.4V282.8M1863.6 105.7V283.6M1869.3 110.4V284.8M1875 108.7V280.6M1880.7 109.5V285.7M1886.4 114.2V272.9M1892.1 110.6V274.1M1897.8 109.2V277.8M1903.4 106.4V280.7M1909.1 86.8V288.7M1914.8 89.3V282.6M1920.5 80.3V290.5M1926.2 91.8V280.1M1931.9 96.5V278.9M1937.6 90.2V279.4M1943.3 75.5V282.5" stroke="#ff0000" stroke-opacity="0.5" stroke-width="2.1" fill="none"/>
<polyline points="1533.6,278.3 1539.3,273.7 1545,269.6 1550.7,253.3 1556.4,244.6 1562,238.8 1567.7,234.2 1573.4,230.1 1579.1,216.8 1584.8,209.8 1590.5,202.2 1596.2,191.8 1601.9,183.1 1607.6,190.6 1613.3,191.8 1618.9,193.5 1624.6,191.8 1630.3,197.6 1636,200.5 1641.7,199.3 1647.4,197.6 1653.1,196.4 1658.8,195.3 1664.5,194.7 1670.2,191.8 1675.8,196.4 1681.5,199.3 1687.2,202.2 1692.9,206.3 1698.6,202.2 1704.3,199.3 1710,196.4 1715.7,202.2 1721.4,206.3 1727.1,208.6 1732.8,208 1738.4,209.2 1744.1,210.1 1749.8,209.2 1755.5,206.3 1761.2,203.4 1766.9,201.7 1772.6,196.4 1778.3,202.2 1784,197.6 1789.6,203.4 1795.3,197.6 1801,197.6 1806.7,194.7 1812.4,194.7 1818.1,196.4 1823.8,197.6 1829.5,199.3 1835.2,199.3 1840.9,198.2 1846.5,199.3 1852.2,196.4 1857.9,197.6 1863.6,194.7 1869.3,197.6 1875,194.7 1880.7,197.6 1886.4,193.5 1892.1,192.4 1897.8,193.5 1903.4,193.5 1909.1,187.7 1914.8,186 1920.5,185.4 1926.2,186 1931.9,187.7 1937.6,184.8 1943.3,179" stroke="#ff0000" stroke-width="2.7" fill="none" stroke-linejoin="round" stroke-linecap="round"/>
<path d="M1533.6 250V306.7M1539.3 233.1V299.1M1545 229.1V295.1M1550.7 224.7V290.2M1556.4 215.7V285.2M1562 211.9V279.7M1567.7 208.5V274.9M1573.4 205.4V272.2M1579.1 200.9V270.9M1584.8 197.6V265M1590.5 192.5V258.4M1596.2 190.8V262.4M1601.9 188.8V262.1M1607.6 183.7V261.5M1613.3 180.5V255.4M1618.9 175.2V254.8M1624.6 174.6V259M1630.3 164.5V251.6M1636 167.1V254.8M1641.7 171.3V252.9M1647.4 171V254.4M1653.1 166.9V249.2M1658.8 175.4V258.1M1664.5 169.8V257.9M1670.2 172.3V257.7M1675.8 172.9V260.6M1681.5 176.5V260.5M1687.2 177.2V264.5M1692.9 180.3V264.8M1698.6 180.4V263.6M1704.3 179.2V265.9M1710 179.3V268.1M1715.7 182.3V266.3M1721.4 180.1V268.5M1727.1 180.7V270.2M1732.8 179.9V267.5M1738.4 176.6V266.2M1744.1 173.4V262.4M1749.8 175.6V266M1755.5 173.8V265.5M1761.2 170.3V265.5M1766.9 168.5V265.1M1772.6 169.7V263.8M1778.3 168.3V262.8M1784 164.4V263.3M1789.6 166.1V269.8M1795.3 164.7V268.8M1801 161.8V271.7M1806.7 160.1V273.5M1812.4 152V275.7M1818.1 154.9V280.9M1823.8 156.4V278.3M1829.5 155.1V278.4M1835.2 152.6V279.8M1840.9 150.2V279.9M1846.5 149.8V281.4M1852.2 149.3V281.9M1857.9 146.1V286.3M1863.6 137.2V290.5M1869.3 136.7V289.8M1875 135.4V290M1880.7 131.9V290M1886.4 123.2V292.9M1892.1 128V291.6M1897.8 125.7V295M1903.4 126V294.8M1909.1 123.6V297.1M1914.8 117.9V301.6M1920.5 114.4V304M1926.2 120.3V294.6M1931.9 123.3V289.3M1937.6 122.8V289.8M1943.3 128V282.3" stroke="#000000" stroke-opacity="0.5" stroke-width="2.1" fill="none"/>
<polyline points="1533.6,278.3 1539.3,266.1 1545,262.1 1550.7,257.4 1556.4,250.4 1562,245.8 1567.7,241.7 1573.4,238.8 1579.1,235.9 1584.8,231.3 1590.5,225.5 1596.2,226.6 1601.9,225.5 1607.6,222.6 1613.3,217.9 1618.9,215 1624.6,216.8 1630.3,208 1636,210.9 1641.7,212.1 1647.4,212.7 1653.1,208 1658.8,216.8 1664.5,213.9 1670.2,215 1675.8,216.8 1681.5,218.5 1687.2,220.8 1692.9,222.6 1698.6,222 1704.3,222.6 1710,223.7 1715.7,224.3 1721.4,224.3 1727.1,225.5 1732.8,223.7 1738.4,221.4 1744.1,217.9 1749.8,220.8 1755.5,219.7 1761.2,217.9 1766.9,216.8 1772.6,216.8 1778.3,215.6 1784,213.9 1789.6,217.9 1795.3,216.8 1801,216.8 1806.7,216.8 1812.4,213.9 1818.1,217.9 1823.8,217.3 1829.5,216.8 1835.2,216.2 1840.9,215 1846.5,215.6 1852.2,215.6 1857.9,216.2 1863.6,213.9 1869.3,213.3 1875,212.7 1880.7,210.9 1886.4,208 1892.1,209.8 1897.8,210.4 1903.4,210.4 1909.1,210.4 1914.8,209.8 1920.5,209.2 1926.2,207.5 1931.9,206.3 1937.6,206.3 1943.3,205.1" stroke="#000000" stroke-width="2.7" fill="none" stroke-linejoin="round" stroke-linecap="round"/>
<polyline points="1533.6,278.3 1539.3,278.3 1545,278.9 1550.7,273.7 1556.4,270.8 1562,270.2 1567.7,267.9 1573.4,266.7 1579.1,266.7 1584.8,265 1590.5,263.8 1596.2,262.1 1601.9,257.4 1607.6,255.7 1613.3,256.8 1618.9,256.8 1624.6,254.5 1630.3,253.9 1636,251.6 1641.7,250.4 1647.4,251.6 1653.1,250.4 1658.8,250.4 1664.5,250.4 1670.2,250.4 1675.8,247.5 1681.5,247 1687.2,244.6 1692.9,245.8 1698.6,245.8 1704.3,246.4 1710,246.4 1715.7,247.5 1721.4,248.7 1727.1,249.3 1732.8,248.7 1738.4,249.3 1744.1,247.5 1749.8,249.3 1755.5,250.4 1761.2,248.7 1766.9,247.5 1772.6,245.8 1778.3,251 1784,248.1 1789.6,247.5 1795.3,248.1 1801,245.8 1806.7,248.1 1812.4,249.3 1818.1,250.4 1823.8,249.9 1829.5,249.9 1835.2,248.7 1840.9,256.2 1846.5,251.6 1852.2,253.9 1857.9,252.8 1863.6,251.6 1869.3,250.4 1875,249.9 1880.7,248.7 1886.4,247 1892.1,250.4 1897.8,251.6 1903.4,252.2 1909.1,252.8 1914.8,253.3 1920.5,249.9 1926.2,251 1931.9,251.6 1937.6,250.4 1943.3,249.9" stroke="#0a640a" stroke-width="2.7" fill="none" stroke-linejoin="round" stroke-linecap="round"/>
<path d="M1533.6 44.7V336.4H1990.1M1533.6 336.4H1519.9M1533.6 278.3H1519.9M1533.6 220.2H1519.9M1533.6 162.2H1519.9M1533.6 104.1H1519.9M1533.6 46H1519.9M1533.6 336.4V348M1647.4 336.4V348M1761.2 336.4V348M1875 336.4V348M1988.8 336.4V348" stroke="#000" stroke-width="2.7" fill="none"/>
<text x="1515.8" y="344.2" text-anchor="end" font-family="Liberation Sans, Arial, sans-serif" font-weight="bold" font-size="22">0</text>
<text x="1515.8" y="286.1" text-anchor="end" font-family="Liberation Sans, Arial, sans-serif" font-weight="bold" font-size="22">100</text>
<text x="1515.8" y="228" text-anchor="end" font-family="Liberation Sans, Arial, sans-serif" font-weight="bold" font-size="22">200</text>
<text x="1515.8" y="170" text-anchor="end" font-family="Liberation Sans, Arial, sans-serif" font-weight="bold" font-size="22">300</text>
<text x="1515.8" y="111.9" text-anchor="end" font-family="Liberation Sans, Arial, sans-serif" font-weight="bold" font-size="22">400</text>
<text x="1515.8" y="53.8" text-anchor="end" font-family="Liberation Sans, Arial, sans-serif" font-weight="bold" font-size="22">500</text>
<text x="1533.2" y="372.3" text-anchor="middle" font-family="Liberation Sans, Arial, sans-serif" font-weight="bold" font-size="22">0</text>
<text x="1647" y="372.3" text-anchor="middle" font-family="Liberation Sans, Arial, sans-serif" font-weight="bold" font-size="22">20</text>
<text x="1760.8" y="372.3" text-anchor="middle" font-family="Liberation Sans, Arial, sans-serif" font-weight="bold" font-size="22">40</text>
<text x="1874.6" y="372.3" text-anchor="middle" font-family="Liberation Sans, Arial, sans-serif" font-weight="bold" font-size="22">60</text>
<text x="1988.4" y="372.3" text-anchor="middle" font-family="Liberation Sans, Arial, sans-serif" font-weight="bold" font-size="22">80</text>
<text x="1713.6" y="406.2" font-family="Liberation Sans, Arial, sans-serif" font-weight="bold" font-size="24" textLength="94.5" lengthAdjust="spacing">Time [h]</text>
<text transform="translate(1463.3 372.2) rotate(-90)" font-family="Liberation Sans, Arial, sans-serif" font-weight="bold" font-size="23.5" textLength="363.4" lengthAdjust="spacing">Cell number relative to start [%]</text>
<text x="1357.4" y="42.2" font-family="Liberation Sans, Arial, sans-serif" font-weight="bold" font-size="41.5">C)</text>
<path d="M629.5 494.9H672.4" stroke="#000" stroke-width="3.7"/>
<circle cx="650.95" cy="494.9" r="2.4" fill="#000"/>
<text x="696.5" y="504" font-family="Liberation Sans, Arial, sans-serif" font-size="26.5" letter-spacing="0.4" fill="#111" textLength="90.6" lengthAdjust="spacing">Control</text>
<path d="M858.5 494.9H902" stroke="#ff0000" stroke-width="3.7"/>
<circle cx="880.25" cy="494.9" r="2.4" fill="#ff0000"/>
<text x="926" y="504" font-family="Liberation Sans, Arial, sans-serif" font-size="26.5" letter-spacing="0.4" fill="#111">PEF</text>
<path d="M1038.3 494.9H1081.8" stroke="#7a0a7a" stroke-width="3.7"/>
<circle cx="1060.05" cy="494.9" r="2.4" fill="#7a0a7a"/>
<text x="1106" y="504" font-family="Liberation Sans, Arial, sans-serif" font-size="26.5" letter-spacing="0.4" fill="#111">PTX</text>
<path d="M1224.9 494.9H1267.7" stroke="#0a6a0a" stroke-width="3.7"/>
<circle cx="1246.3000000000002" cy="494.9" r="2.4" fill="#0a6a0a"/>
<text x="1292.5" y="504" font-family="Liberation Sans, Arial, sans-serif" font-size="26.5" letter-spacing="0.4" fill="#111">PEF+PTX</text>
<path d="M226.6 783.7V749.4M220 749.4H233.2" stroke="#707070" stroke-width="1.6" fill="none"/>
<rect x="216.7" y="785.4" width="19.8" height="188.7" fill="#a00000" stroke="#000" stroke-width="3.4"/>
<path d="M253.9 783.7V770.4M247.3 770.4H260.5" stroke="#707070" stroke-width="1.6" fill="none"/>
<rect x="242.9" y="785.4" width="22" height="188.7" fill="#0b6b45" stroke="#000" stroke-width="3.4"/>
<path d="M282 783.7V768.5M275.4 768.5H288.6" stroke="#707070" stroke-width="1.6" fill="none"/>
<rect x="271.6" y="785.4" width="20.9" height="188.7" fill="#00008b" stroke="#000" stroke-width="3.4"/>
<path d="M336.4 773.6V751.3M329.8 751.3H343" stroke="#707070" stroke-width="1.6" fill="none"/>
<rect x="326.1" y="775.3" width="20.5" height="198.8" fill="#a00000" stroke="#000" stroke-width="3.4"/>
<path d="M364.4 755.1V718.2M357.8 718.2H371" stroke="#707070" stroke-width="1.6" fill="none"/>
<rect x="353" y="756.8" width="22.7" height="217.3" fill="#0b6b45" stroke="#000" stroke-width="3.4"/>
<path d="M393.3 801.8V787.5M386.7 787.5H399.9" stroke="#707070" stroke-width="1.6" fill="none"/>
<rect x="382.9" y="803.5" width="20.8" height="170.6" fill="#00008b" stroke="#000" stroke-width="3.4"/>
<path d="M446.6 857.6V841.6M440 841.6H453.2" stroke="#707070" stroke-width="1.6" fill="none"/>
<rect x="436" y="859.3" width="21.3" height="114.8" fill="#a00000" stroke="#000" stroke-width="3.4"/>
<path d="M474.3 927.5V901.4M467.7 901.4H480.9" stroke="#707070" stroke-width="1.6" fill="none"/>
<rect x="463.3" y="929.2" width="22" height="44.9" fill="#0b6b45" stroke="#000" stroke-width="3.4"/>
<path d="M503.2 898.7V889.4M496.6 889.4H509.8" stroke="#707070" stroke-width="1.6" fill="none"/>
<rect x="492.4" y="900.4" width="21.6" height="73.7" fill="#00008b" stroke="#000" stroke-width="3.4"/>
<path d="M557.3 901.4V887.1M550.7 887.1H563.9" stroke="#707070" stroke-width="1.6" fill="none"/>
<rect x="546.5" y="903.1" width="21.6" height="71" fill="#a00000" stroke="#000" stroke-width="3.4"/>
<path d="M585.3 946.9V931.8M578.7 931.8H591.9" stroke="#707070" stroke-width="1.6" fill="none"/>
<rect x="574.5" y="948.6" width="21.6" height="25.5" fill="#0b6b45" stroke="#000" stroke-width="3.4"/>
<path d="M613.7 890.9V876.6M607.1 876.6H620.3" stroke="#707070" stroke-width="1.6" fill="none"/>
<rect x="603.3" y="892.6" width="20.8" height="81.5" fill="#00008b" stroke="#000" stroke-width="3.4"/>
<path d="M200.1 687.3V974.1M188 974.1H639M200.1 974.1H188M200.1 878.9H188M200.1 783.7H188M200.1 688.5H188M253.5 974.1V985.5M363.6 974.1V985.5M473.9 974.1V985.5M584.8 974.1V985.5" stroke="#000" stroke-width="2.5" fill="none"/>
<text x="183.4" y="981.6" text-anchor="end" font-family="Liberation Sans, Arial, sans-serif" font-weight="bold" font-size="21">0</text>
<text x="183.4" y="886.4" text-anchor="end" font-family="Liberation Sans, Arial, sans-serif" font-weight="bold" font-size="21">50</text>
<text x="183.4" y="791.2" text-anchor="end" font-family="Liberation Sans, Arial, sans-serif" font-weight="bold" font-size="21">100</text>
<text x="183.4" y="696" text-anchor="end" font-family="Liberation Sans, Arial, sans-serif" font-weight="bold" font-size="21">150</text>
<text x="253.8" y="1008" text-anchor="middle" font-family="Liberation Sans, Arial, sans-serif" font-weight="bold" font-size="21.3" letter-spacing="0.6">Control</text>
<text x="363.90000000000003" y="1008" text-anchor="middle" font-family="Liberation Sans, Arial, sans-serif" font-weight="bold" font-size="21.3" letter-spacing="0.6">PEF</text>
<text x="474.2" y="1008" text-anchor="middle" font-family="Liberation Sans, Arial, sans-serif" font-weight="bold" font-size="21.3" letter-spacing="0.6">PTX</text>
<text x="585.0999999999999" y="1008" text-anchor="middle" font-family="Liberation Sans, Arial, sans-serif" font-weight="bold" font-size="21.3" letter-spacing="0.6">PEF+PTX</text>
<text transform="translate(131.5 897.7) rotate(-90)" font-family="Liberation Sans, Arial, sans-serif" font-weight="bold" font-size="22.5" textLength="132.4" lengthAdjust="spacing">Viability [%]</text>
<path d="M225.7 705.8H294.6M328.9 706.9H397.5M261 706V687.9H360.7V707" stroke="#000" stroke-width="4.2" fill="none"/>
<text x="310.2" y="672.9" text-anchor="middle" font-family="Liberation Sans, Arial, sans-serif" font-size="23.5" fill="#111">ns</text>
<path d="M447 832V804.9H557.5V871.3" stroke="#000" stroke-width="4.2" fill="none"/>
<text x="502" y="800.6" text-anchor="middle" font-family="DejaVu Sans, sans-serif" font-weight="bold" font-size="28">*</text>
<rect x="587.1" y="685.3" width="26.8" height="11.7" fill="#a00000" stroke="#000" stroke-width="3.2"/>
<text x="633" y="698" font-family="Liberation Sans, Arial, sans-serif" font-size="22.3" letter-spacing="-0.1" fill="#111">RDB</text>
<rect x="587.1" y="723.7" width="26.8" height="11.7" fill="#0b6b45" stroke="#000" stroke-width="3.2"/>
<text x="633" y="736.3" font-family="Liberation Sans, Arial, sans-serif" font-size="22.3" letter-spacing="-0.1" fill="#111">RNOV</text>
<rect x="587.1" y="762.9" width="26.8" height="11.7" fill="#00008b" stroke="#000" stroke-width="3.2"/>
<text x="633" y="774.5" font-family="Liberation Sans, Arial, sans-serif" font-size="22.3" letter-spacing="-0.1" fill="#111">P</text>
<text x="33.8" y="654.7" font-family="Liberation Sans, Arial, sans-serif" font-weight="bold" font-size="40">D)</text>
<path d="M881.8 639.5h1.7M902.9 639.5h1.7M924 639.5h1.7M945.1 639.5h1.7M966.1 639.5h1.7M987.2 639.5h1.7M1008.3 639.5h1.7M1029.4 639.5h1.7M1050.5 639.5h1.7M1071.5 639.5h1.7M1092.6 639.5h1.7M1113.7 639.5h1.7M1134.8 639.5h1.7M1155.9 639.5h1.7M1176.9 639.5h1.7M1198 639.5h1.7M1219.1 639.5h1.7M1240.2 639.5h1.7M1261.3 639.5h1.7M1282.3 639.5h1.7M1303.4 639.5h1.7M1324.5 639.5h1.7M1345.6 639.5h1.7M881.8 709.7h1.7M902.9 709.7h1.7M924 709.7h1.7M945.1 709.7h1.7M966.1 709.7h1.7M987.2 709.7h1.7M1008.3 709.7h1.7M1029.4 709.7h1.7M1050.5 709.7h1.7M1071.5 709.7h1.7M1092.6 709.7h1.7M1113.7 709.7h1.7M1134.8 709.7h1.7M1155.9 709.7h1.7M1176.9 709.7h1.7M1198 709.7h1.7M1219.1 709.7h1.7M1240.2 709.7h1.7M1261.3 709.7h1.7M1282.3 709.7h1.7M1303.4 709.7h1.7M1324.5 709.7h1.7M1345.6 709.7h1.7M881.8 850.1h1.7M902.9 850.1h1.7M924 850.1h1.7M945.1 850.1h1.7M966.1 850.1h1.7M987.2 850.1h1.7M1008.3 850.1h1.7M1029.4 850.1h1.7M1050.5 850.1h1.7M1071.5 850.1h1.7M1092.6 850.1h1.7M1113.7 850.1h1.7M1134.8 850.1h1.7M1155.9 850.1h1.7M1176.9 850.1h1.7M1198 850.1h1.7M1219.1 850.1h1.7M1240.2 850.1h1.7M1261.3 850.1h1.7M1282.3 850.1h1.7M1303.4 850.1h1.7M1324.5 850.1h1.7M1345.6 850.1h1.7M881.8 920.3h1.7M902.9 920.3h1.7M924 920.3h1.7M945.1 920.3h1.7M966.1 920.3h1.7M987.2 920.3h1.7M1008.3 920.3h1.7M1029.4 920.3h1.7M1050.5 920.3h1.7M1071.5 920.3h1.7M1092.6 920.3h1.7M1113.7 920.3h1.7M1134.8 920.3h1.7M1155.9 920.3h1.7M1176.9 920.3h1.7M1198 920.3h1.7M1219.1 920.3h1.7M1240.2 920.3h1.7M1261.3 920.3h1.7M1282.3 920.3h1.7M1303.4 920.3h1.7M1324.5 920.3h1.7M1345.6 920.3h1.7M881.8 990.5h1.7M902.9 990.5h1.7M924 990.5h1.7M945.1 990.5h1.7M966.1 990.5h1.7M987.2 990.5h1.7M1008.3 990.5h1.7M1029.4 990.5h1.7M1050.5 990.5h1.7M1071.5 990.5h1.7M1092.6 990.5h1.7M1113.7 990.5h1.7M1134.8 990.5h1.7M1155.9 990.5h1.7M1176.9 990.5h1.7M1198 990.5h1.7M1219.1 990.5h1.7M1240.2 990.5h1.7M1261.3 990.5h1.7M1282.3 990.5h1.7M1303.4 990.5h1.7M1324.5 990.5h1.7M1345.6 990.5h1.7M1008.3 611.4h1.7M1008.3 625.5h1.7M1008.3 639.5h1.7M1008.3 653.5h1.7M1008.3 667.6h1.7M1008.3 681.6h1.7M1008.3 695.7h1.7M1008.3 709.7h1.7M1008.3 723.7h1.7M1008.3 737.8h1.7M1008.3 751.8h1.7M1008.3 765.9h1.7M1008.3 779.9h1.7M1008.3 793.9h1.7M1008.3 808h1.7M1008.3 822h1.7M1008.3 836.1h1.7M1008.3 850.1h1.7M1008.3 864.1h1.7M1008.3 878.2h1.7M1008.3 892.2h1.7M1008.3 906.3h1.7M1008.3 920.3h1.7M1008.3 934.3h1.7M1008.3 948.4h1.7M1008.3 962.4h1.7M1008.3 976.5h1.7M1008.3 990.5h1.7M1008.3 1004.5h1.7M1008.3 1018.6h1.7M1113.7 611.4h1.7M1113.7 625.5h1.7M1113.7 639.5h1.7M1113.7 653.5h1.7M1113.7 667.6h1.7M1113.7 681.6h1.7M1113.7 695.7h1.7M1113.7 709.7h1.7M1113.7 723.7h1.7M1113.7 737.8h1.7M1113.7 751.8h1.7M1113.7 765.9h1.7M1113.7 779.9h1.7M1113.7 793.9h1.7M1113.7 808h1.7M1113.7 822h1.7M1113.7 836.1h1.7M1113.7 850.1h1.7M1113.7 864.1h1.7M1113.7 878.2h1.7M1113.7 892.2h1.7M1113.7 906.3h1.7M1113.7 920.3h1.7M1113.7 934.3h1.7M1113.7 948.4h1.7M1113.7 962.4h1.7M1113.7 976.5h1.7M1113.7 990.5h1.7M1113.7 1004.5h1.7M1113.7 1018.6h1.7M1219.1 611.4h1.7M1219.1 625.5h1.7M1219.1 639.5h1.7M1219.1 653.5h1.7M1219.1 667.6h1.7M1219.1 681.6h1.7M1219.1 695.7h1.7M1219.1 709.7h1.7M1219.1 723.7h1.7M1219.1 737.8h1.7M1219.1 751.8h1.7M1219.1 765.9h1.7M1219.1 779.9h1.7M1219.1 793.9h1.7M1219.1 808h1.7M1219.1 822h1.7M1219.1 836.1h1.7M1219.1 850.1h1.7M1219.1 864.1h1.7M1219.1 878.2h1.7M1219.1 892.2h1.7M1219.1 906.3h1.7M1219.1 920.3h1.7M1219.1 934.3h1.7M1219.1 948.4h1.7M1219.1 962.4h1.7M1219.1 976.5h1.7M1219.1 990.5h1.7M1219.1 1004.5h1.7M1219.1 1018.6h1.7M1324.5 611.4h1.7M1324.5 625.5h1.7M1324.5 639.5h1.7M1324.5 653.5h1.7M1324.5 667.6h1.7M1324.5 681.6h1.7M1324.5 695.7h1.7M1324.5 709.7h1.7M1324.5 723.7h1.7M1324.5 737.8h1.7M1324.5 751.8h1.7M1324.5 765.9h1.7M1324.5 779.9h1.7M1324.5 793.9h1.7M1324.5 808h1.7M1324.5 822h1.7M1324.5 836.1h1.7M1324.5 850.1h1.7M1324.5 864.1h1.7M1324.5 878.2h1.7M1324.5 892.2h1.7M1324.5 906.3h1.7M1324.5 920.3h1.7M1324.5 934.3h1.7M1324.5 948.4h1.7M1324.5 962.4h1.7M1324.5 976.5h1.7M1324.5 990.5h1.7M1324.5 1004.5h1.7M1324.5 1018.6h1.7" stroke="#3a3a3a" stroke-width="1.7" fill="none"/>
<path d="M867.4 779.9H1355.9" stroke="#333" stroke-width="1.6"/>
<path d="M903.6 608.6V1019.4" stroke="#000" stroke-width="1.6"/>
<path d="M882.5 775.9V783.9M924.7 775.9V783.9M945.8 775.9V783.9M966.8 775.9V783.9M987.9 775.9V783.9M1009 775.9V783.9M1030.1 775.9V783.9M1051.2 775.9V783.9M1072.2 775.9V783.9M1093.3 775.9V783.9M1114.4 775.9V783.9M1135.5 775.9V783.9M1156.6 775.9V783.9M1177.6 775.9V783.9M1198.7 775.9V783.9M1219.8 775.9V783.9M1240.9 775.9V783.9M1262 775.9V783.9M1283 775.9V783.9M1304.1 775.9V783.9M1325.2 775.9V783.9M1346.3 775.9V783.9" stroke="#3a3a3a" stroke-width="1.3" fill="none"/>
<path d="M898.6 611.4H908.6M898.6 625.5H908.6M894.6 639.5H912.6M898.6 653.5H908.6M898.6 667.6H908.6M898.6 681.6H908.6M898.6 695.7H908.6M894.6 709.7H912.6M898.6 723.7H908.6M898.6 737.8H908.6M898.6 751.8H908.6M898.6 765.9H908.6M898.6 793.9H908.6M898.6 808H908.6M898.6 822H908.6M898.6 836.1H908.6M894.6 850.1H912.6M898.6 864.1H908.6M898.6 878.2H908.6M898.6 892.2H908.6M898.6 906.3H908.6M894.6 920.3H912.6M898.6 934.3H908.6M898.6 948.4H908.6M898.6 962.4H908.6M898.6 976.5H908.6M894.6 990.5H912.6M898.6 1004.5H908.6" stroke="#111" stroke-width="1.2" stroke-dasharray="1.6 1.2" fill="none"/>
<polyline points="867.4,920.8 868.5,921.7 869.6,920.5 870.7,920.6 871.8,921.6 872.9,920.5 874,921.6 875.1,921.8 876.2,920.3 877.3,922.2 878.4,920.5 879.5,922.5 880.6,922.7 881.7,921.8 882.8,920.4 883.9,921.8 885,921.4 886.2,923.2 887.3,920.6 888.4,922.9 889.5,923.4 890.6,922.5 891.7,922.8 892.8,920.8 893.9,923.3 895,921.8 896.1,923.3 897.2,923.1 898.3,920.7 899.4,922.7 900.5,923.2 901.6,920.4 902.7,921.3 903.8,922.6 904.9,920.7 906,923.1 907.1,921.1 908.2,922.8 909.3,920.7 910.4,921.8 911.5,923.1 912.6,920.9 913.7,921 914.8,921.8 915.9,921.2 917,920.3 918.1,920.8 919.2,920.7 920.4,923.2 921.5,922.4 922.6,923.1 923.7,920.7 924.8,922.7 925.9,920.6 927,921.9 928.1,922.2 929.2,921.4 930.3,923 931.4,922 932.5,922.1 933.6,923 934.7,920.5 935.8,923.4 936.9,922.2 938,921.5 939.1,922.8 940.2,921 941.3,923.4 942.4,922 943.5,921.4 944.6,922.6 945.7,921.6 946.8,920.8 947.9,922.6 949,920.4 950.1,922.8 951.2,921 952.3,922.2 953.4,923.3 954.5,922.1 955.6,922.3 956.8,921.2 957.9,920.2 959,920.3 960.1,920.7 961.2,922.2 962.3,921.6 963.4,921.8 964.5,923.1 965.6,920.6 966.7,920.9 967.8,922.3 968.9,920.3 970,920.2 971.1,921.3 972.2,920.5 973.3,921.3 974.4,920.9 975.5,922.1 976.6,922.1 977.7,920.9 978.8,922.2 979.9,921.7 981,920.6 982.1,923.2 983.2,921 984.3,920.7 985.4,920.5 986.5,922.2 987.6,923 988.7,922.7 989.8,921.5 991,921 992.1,920.2 993.2,922.3 994.3,922 995.4,921.3 996.5,922.3 997.6,921.6 998.7,923.2 999.8,922.5 1000.9,921 1002,923.1 1003.1,920.3 1004.2,921.9 1005.3,921.5 1006.4,921 1007.5,920.4 1008.6,921.8 1010.4,908 1012.7,845.3 1015.5,786.5 1018.2,739.4 1021.4,704.1 1025.3,686.5 1029.2,673.6 1030.4,669.2 1031.6,669 1032.7,668.3 1033.9,663.8 1035.1,662 1036.2,662.2 1037.4,660.8 1038.5,660.1 1039.6,659.5 1040.7,656.3 1041.9,655.6 1043,654.5 1044.2,653.4 1045.4,655.8 1046.6,655.3 1047.8,654.8 1049.1,652.3 1050.3,654.7 1051.5,654.1 1052.7,653 1053.9,653.1 1055.2,651.5 1056.4,650 1057.6,648.9 1058.8,648.6 1060,647.3 1061.3,647.5 1062.5,648.1 1063.7,647.3 1064.9,647.2 1066,646.2 1067.2,644.2 1068.4,644.5 1069.6,643.6 1070.8,644.1 1071.9,642.7 1073.1,641.2 1074.3,641.9 1075.4,642.7 1076.5,640.1 1077.6,642 1078.7,639 1079.8,639.6 1080.9,639.4 1082,640.8 1083.2,641.2 1084.3,640.4 1085.4,638.8 1086.5,640.4 1087.6,638.5 1088.7,638 1089.8,639.9 1090.9,638.8 1092,638.8 1093.2,639 1094.3,640.4 1095.5,639.1 1096.7,640.6 1097.8,640.4 1099,641.3 1100.2,640.2 1101.4,641.5 1102.5,641.3 1103.7,640.8 1104.9,640.5 1106.1,641.8 1107.2,640 1108.4,642.7 1109.6,640.3 1110.8,639.9 1112,640.1 1113.1,642.8 1114.3,640.9 1115.5,640.3 1117,643.8 1118.6,649.2 1121.4,688.4 1124.1,766.9 1126.5,845.3 1128.8,923.7 1131.2,970.8 1132.7,981.8 1135.1,962.9 1138.2,923.7 1141,892.8 1142.3,897.9 1143.7,900.2 1146.9,923.7 1150.8,937.9 1152.1,935.5 1153.4,933 1154.7,929.6 1160.6,906.6 1161.9,910.9 1163.2,912.8 1164.5,916.9 1165.7,919.7 1166.9,922.6 1168,922.7 1169.2,928 1170.4,930.9 1171.6,928.1 1172.8,922.5 1174,919.9 1175.1,916.6 1176.3,913.4 1177.5,913.1 1178.7,915.9 1179.8,918.3 1181,921.8 1182.2,924.1 1183.5,925.7 1184.8,927.7 1186.1,930.3 1187.3,930.8 1188.5,927.5 1189.6,926.3 1190.8,925 1192,922.2 1193.2,924.1 1194.3,925.4 1195.5,927.9 1196.6,928 1197.8,929 1199.1,932.4 1200.5,932.2 1201.8,934.6 1203,932.3 1204.1,928.9 1205.3,928.5 1206.4,927.1 1207.6,926.6 1208.7,925.2 1209.9,926.4 1211,925.8 1212.1,924.8 1213.2,926.9 1214.4,924.4 1215.5,926.7 1216.7,923.5 1217.9,921.7 1219,921.2 1220.2,921.8 1221.4,921.3 1222.6,917.8 1223.7,919 1224.9,918.6 1226.1,919.2 1227.2,916.8 1228.4,917.4 1229.6,916.6 1230.8,917.7 1231.9,915.5 1233.1,917.3 1234.2,915.3 1235.3,915.1 1236.5,916.7 1237.6,916.1 1238.7,914.9 1239.8,916.7 1240.9,915 1242.1,917.3 1243.2,917 1244.3,917.4 1245.4,916.9 1246.6,916.1 1247.7,916.3 1248.8,916.4 1250,918.5 1251.2,916.4 1252.3,919.5 1253.5,917.2 1254.7,918.3 1255.9,919 1257.1,921.6 1258.2,920.8 1259.4,920.9 1260.6,923 1261.8,921.3 1263,922.3 1264.1,922.8 1265.3,923.9 1266.5,924.2 1267.7,924.1 1268.9,923.5 1270,923.7 1271.2,923.5 1272.4,926 1273.6,925.3 1274.7,925.5 1275.9,923.6 1277,924.4 1278.2,925.4 1279.3,924.7 1280.5,923.2 1281.6,924.2 1282.8,925.5 1283.9,923.4 1285.1,923.1 1286.2,923.4 1287.4,924.6 1288.5,925 1289.7,922.7 1290.8,922.7 1292,922.9 1293.2,923 1294.3,923.5 1295.5,922.1 1296.6,922.5 1297.8,921.9 1298.9,924.3 1300.1,923.3 1301.2,921.2 1302.4,923.8 1303.5,920.8 1304.7,921.6 1305.8,923.3 1307,922.6 1308.1,922.2 1309.3,921.1 1310.4,920.2 1311.6,921.4 1312.8,919.9 1313.9,920.4 1315.1,921.1 1316.2,920.1 1317.4,921.5 1318.5,922.9 1319.7,922.7 1320.8,922.3 1322,922.9 1323.1,922.5 1324.3,921.6 1325.4,923.2 1326.6,922.8 1327.7,924 1328.9,924.7 1330,923.3 1331.2,923.9 1332.3,924.7 1333.4,923.9 1334.6,923.5 1335.7,925.3 1336.8,926 1337.9,925.9 1339,925.9 1340.2,926.6 1341.3,926.3 1342.4,926.4 1343.5,926 1344.6,925.8 1345.7,927 1346.9,925.5 1348,926.8 1349.1,928.2 1350.2,928.2 1351.3,928.1 1352.5,927.2 1353.6,927.9 1354.7,928.4" stroke="#1010ff" stroke-width="1.9" fill="none" stroke-linejoin="round"/>
<path d="M999.9 640.6V703.7" stroke="#777" stroke-width="2.4"/>
<path d="M1012.7 988.4H1113.5" stroke="#777" stroke-width="2.2"/>
<text x="936.6" y="678.5" font-family="Liberation Sans, Arial, sans-serif" font-size="18" fill="#555">200 V</text>
<text x="1062.5" y="971.6" text-anchor="middle" font-family="Liberation Sans, Arial, sans-serif" font-size="18" fill="#555">200 ns</text>
<text transform="translate(801.1 652.9) scale(0.77 1)" font-family="Liberation Sans, Arial, sans-serif" font-weight="bold" font-size="40" letter-spacing="2.6" stroke="#000" stroke-width="0.8">E)</text>
<rect x="1552" y="597" width="267" height="440" fill="rgb(50,61,150)"/>
<clipPath id="fclip"><rect x="1552" y="597" width="267" height="440"/></clipPath>
<g clip-path="url(#fclip)">
<rect x="1545.9" y="560" width="279" height="464.3" rx="31" fill="rgb(50,63,151)"/>
<rect x="1546.7" y="560" width="277.5" height="463.5" rx="30.2" fill="rgb(51,64,152)"/>
<rect x="1547.4" y="560" width="276" height="462.8" rx="29.5" fill="rgb(52,65,153)"/>
<rect x="1548.2" y="560" width="274.5" height="462" rx="28.8" fill="rgb(52,66,154)"/>
<rect x="1548.9" y="560" width="273" height="461.3" rx="28" fill="rgb(53,67,155)"/>
<rect x="1549.7" y="560" width="271.5" height="460.5" rx="27.2" fill="rgb(54,68,156)"/>
<rect x="1550.4" y="560" width="270" height="459.8" rx="26.5" fill="rgb(54,69,157)"/>
<rect x="1551.2" y="560" width="268.5" height="459" rx="25.8" fill="rgb(55,70,158)"/>
<rect x="1551.9" y="560" width="267" height="458.3" rx="25" fill="rgb(56,72,160)"/>
<rect x="1552.7" y="560" width="265.5" height="457.5" rx="24.2" fill="rgb(58,74,162)"/>
<rect x="1553.4" y="560" width="264" height="456.8" rx="23.5" fill="rgb(60,77,164)"/>
<rect x="1554.2" y="560" width="262.5" height="456" rx="22.8" fill="rgb(61,80,166)"/>
<rect x="1554.9" y="560" width="261" height="455.3" rx="22" fill="rgb(63,82,168)"/>
<rect x="1555.7" y="560" width="259.5" height="454.5" rx="21.2" fill="rgb(65,85,171)"/>
<rect x="1556.4" y="560" width="258" height="453.8" rx="20.5" fill="rgb(68,89,174)"/>
<rect x="1557.2" y="560" width="256.5" height="453" rx="19.8" fill="rgb(71,93,176)"/>
<rect x="1557.9" y="560" width="255" height="452.3" rx="19" fill="rgb(74,96,179)"/>
<rect x="1558.7" y="560" width="253.5" height="451.5" rx="18.2" fill="rgb(77,100,181)"/>
<rect x="1559.4" y="560" width="252" height="450.8" rx="17.5" fill="rgb(80,104,184)"/>
<rect x="1560.2" y="560" width="250.5" height="450" rx="16.8" fill="rgb(87,111,187)"/>
<rect x="1560.9" y="560" width="249" height="449.3" rx="16" fill="rgb(94,118,189)"/>
<rect x="1561.7" y="560" width="247.5" height="448.5" rx="15.2" fill="rgb(101,125,192)"/>
<rect x="1562.4" y="560" width="246" height="447.8" rx="14.5" fill="rgb(107,131,194)"/>
<rect x="1563.2" y="560" width="244.5" height="447" rx="13.8" fill="rgb(114,138,197)"/>
<rect x="1563.9" y="560" width="243" height="446.3" rx="13" fill="rgb(121,145,200)"/>
<rect x="1564.7" y="560" width="241.5" height="445.5" rx="12.2" fill="rgb(130,150,195)"/>
<rect x="1565.4" y="560" width="240" height="444.8" rx="11.5" fill="rgb(140,154,188)"/>
<rect x="1566.2" y="560" width="238.5" height="444" rx="10.8" fill="rgb(150,159,182)"/>
<rect x="1566.9" y="560" width="237" height="443.3" rx="10" fill="rgb(160,163,176)"/>
<rect x="1567.7" y="560" width="235.5" height="442.5" rx="9.2" fill="rgb(169,163,166)"/>
<rect x="1568.4" y="560" width="234" height="441.8" rx="8.5" fill="rgb(176,154,149)"/>
<rect x="1569.2" y="560" width="232.5" height="441" rx="7.8" fill="rgb(184,144,131)"/>
<rect x="1569.9" y="560" width="231" height="440.3" rx="7" fill="rgb(192,135,113)"/>
<rect x="1570.7" y="560" width="229.5" height="439.5" rx="6.2" fill="rgb(194,125,99)"/>
<rect x="1571.4" y="560" width="228" height="438.8" rx="5.5" fill="rgb(191,114,90)"/>
<rect x="1572.2" y="560" width="226.5" height="438" rx="5" fill="rgb(187,103,80)"/>
<rect x="1572.9" y="560" width="225" height="437.3" rx="5" fill="rgb(184,92,70)"/>
<rect x="1573.7" y="560" width="223.5" height="436.5" rx="5" fill="rgb(180,81,61)"/>
<rect x="1574.4" y="560" width="222" height="435.8" rx="5" fill="rgb(175,72,56)"/>
<rect x="1575.2" y="560" width="220.5" height="435" rx="5" fill="rgb(170,63,52)"/>
<rect x="1575.9" y="560" width="219" height="434.3" rx="5" fill="rgb(164,55,47)"/>
<rect x="1576.7" y="560" width="217.5" height="433.5" rx="5" fill="rgb(159,46,43)"/>
<rect x="1577.4" y="560" width="216" height="432.8" rx="5" fill="rgb(154,38,39)"/>
<rect x="1578.2" y="560" width="214.5" height="432" rx="5" fill="rgb(152,32,38)"/>
<rect x="1578.9" y="560" width="213" height="431.3" rx="5" fill="rgb(150,25,36)"/>
<rect x="1579.7" y="560" width="211.5" height="430.5" rx="5" fill="rgb(148,19,34)"/>
<rect x="1580.4" y="560" width="210" height="429.8" rx="5" fill="rgb(146,12,32)"/>
<rect x="1581.2" y="560" width="208.5" height="429" rx="5" fill="rgb(144,6,30)"/>
<rect x="1581.9" y="560" width="207" height="428.3" rx="5" fill="rgb(142,0,28)"/>
</g>
<defs><linearGradient id="cb" x1="0" y1="1" x2="0" y2="0"><stop offset="0.0" stop-color="rgb(59,76,192)"/><stop offset="0.125" stop-color="rgb(98,130,234)"/><stop offset="0.25" stop-color="rgb(141,176,254)"/><stop offset="0.375" stop-color="rgb(184,208,249)"/><stop offset="0.5" stop-color="rgb(221,221,221)"/><stop offset="0.625" stop-color="rgb(245,196,173)"/><stop offset="0.75" stop-color="rgb(244,154,123)"/><stop offset="0.875" stop-color="rgb(222,96,77)"/><stop offset="1.0" stop-color="rgb(180,4,38)"/></linearGradient></defs>
<rect x="1842.8" y="649" width="20" height="339.2" fill="url(#cb)"/>
<path d="M1859.5 649H1875M1859.5 709.6H1875M1859.5 770.2H1875M1859.5 830.7H1875M1859.5 891.3H1875M1859.5 951.9H1875M1859.5 988.2H1875" stroke="#151515" stroke-width="1.7"/>
<text x="1882.5" y="654.2" font-family="Liberation Sans, Arial, sans-serif" font-size="20.5" letter-spacing="0.15" fill="#333">8.0e+05</text>
<text x="1882.5" y="714.4" font-family="Liberation Sans, Arial, sans-serif" font-size="20.5" letter-spacing="0.15" fill="#333">750000</text>
<text x="1882.5" y="775" font-family="Liberation Sans, Arial, sans-serif" font-size="20.5" letter-spacing="0.15" fill="#333">700000</text>
<text x="1882.5" y="835.5" font-family="Liberation Sans, Arial, sans-serif" font-size="20.5" letter-spacing="0.15" fill="#333">650000</text>
<text x="1882.5" y="896.1" font-family="Liberation Sans, Arial, sans-serif" font-size="20.5" letter-spacing="0.15" fill="#333">600000</text>
<text x="1882.5" y="956.7" font-family="Liberation Sans, Arial, sans-serif" font-size="20.5" letter-spacing="0.15" fill="#333">550000</text>
<text x="1882.5" y="993.4" font-family="Liberation Sans, Arial, sans-serif" font-size="20.5" letter-spacing="0.15" fill="#333">5.2e+05</text>
<text transform="translate(1981 907) rotate(-90)" font-family="Liberation Sans, Arial, sans-serif" font-weight="bold" font-size="19.5" textLength="180" lengthAdjust="spacing">Electric field (V/m)</text>
<text transform="translate(1496.1 652.9) scale(0.78 1)" font-family="Liberation Sans, Arial, sans-serif" font-weight="bold" font-size="40" letter-spacing="2.6" stroke="#000" stroke-width="0.8">F)</text>
</svg>
</body></html>
